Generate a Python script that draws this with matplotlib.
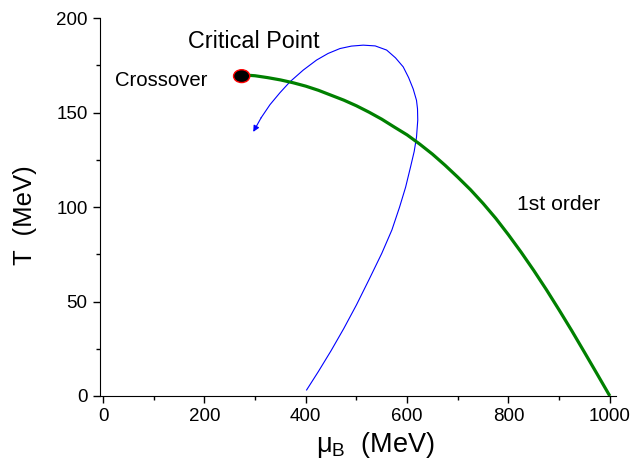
import matplotlib.pyplot as plt
from matplotlib.patches import Ellipse

plt.rcParams['font.family'] = ['Liberation Sans', 'DejaVu Sans']

# 1st order transition line (green)
mu_green = [275, 300, 325, 350, 375, 400, 425, 450, 475, 500, 525, 550, 575, 600, 625,
            650, 675, 700, 725, 750, 775, 800, 825, 850, 875, 900, 925, 950, 975, 1000]
T_green = [170.0, 169.5, 168.5, 167.3, 165.8, 164.0, 161.8, 159.2, 156.6, 153.6, 150.2,
           146.5, 142.3, 138.2, 133.3, 128.0, 122.1, 115.8, 109.2, 101.9, 94.0, 85.3,
           76.1, 66.4, 56.2, 45.5, 34.5, 23.1, 11.6, 0.0]

# trajectory (blue, arrow at the end)
mu_blue = [401.7, 425, 450, 475, 500, 525, 550, 570, 585, 597, 607, 614, 618.5, 621,
           620.5, 618.5, 612, 603, 592.3, 577, 559.6, 537, 513.4, 490, 467.5, 444, 421.3,
           395, 368.8, 349, 329.4, 312, 296.4]
T_blue = [3.2, 13.0, 24.0, 35.7, 48.2, 61.7, 75.5, 87.9, 99.9, 110.5, 121.5, 129.5, 137,
          146, 152, 156.5, 162.5, 168.5, 174.2, 179, 183.1, 185.3, 185.7, 185.2, 183.9,
          181.3, 177.8, 172.5, 166.3, 160.5, 154.2, 147.3, 139.8]

cp_mu, cp_T = 273.5, 169.3

fig = plt.figure(figsize=(6.33, 4.65), dpi=100)
ax = fig.add_axes([0.158, 0.1484, 0.815, 0.8126])

ax.plot(mu_green, T_green, color='#008000', lw=2.3, zorder=3, solid_capstyle='butt')
ax.plot(mu_blue[:-1], T_blue[:-1], color='#0000ff', lw=0.8, zorder=2)
ax.annotate('', xy=(mu_blue[-1], T_blue[-1]), xytext=(mu_blue[-2], T_blue[-2]),
            arrowprops=dict(arrowstyle='-|>', color='#0000ff', lw=0.8,
                            mutation_scale=9, shrinkA=0, shrinkB=0), zorder=2)

ax.add_patch(Ellipse((cp_mu, cp_T), 32, 6.8, facecolor='black', edgecolor='red',
                     lw=1.0, zorder=4))

ax.text(296.6, 187.8, 'Critical Point', fontsize=16.8, ha='center', va='center')
ax.text(115.4, 167.2, 'Crossover', fontsize=14.6, ha='center', va='center')
ax.text(899.4, 101.1, '1st order', fontsize=15.2, ha='center', va='center')

ax.set_xlim(-6, 1012)
ax.set_ylim(0, 200)
ax.spines['top'].set_visible(False)
ax.spines['right'].set_visible(False)
ax.set_xticks([0, 200, 400, 600, 800, 1000])
ax.set_xticks(range(100, 1000, 200), minor=True)
ax.set_yticks([0, 50, 100, 150, 200])
ax.set_yticks([25, 75, 125, 175], minor=True)
ax.tick_params(which='major', direction='out', length=5, width=1, labelsize=13.5, pad=4)
ax.tick_params(which='minor', direction='out', length=3, width=1)

fig.text(375.5 / 633, 1 - 445 / 465, r'$\mathregular{\mu_B}$  (MeV)', fontsize=19.5,
         ha='center', va='center')
fig.text(25 / 633, 1 - 215.5 / 465, 'T  (MeV)', fontsize=18.5, rotation=90,
         ha='center', va='center')

fig.savefig('out.png', dpi=100)
